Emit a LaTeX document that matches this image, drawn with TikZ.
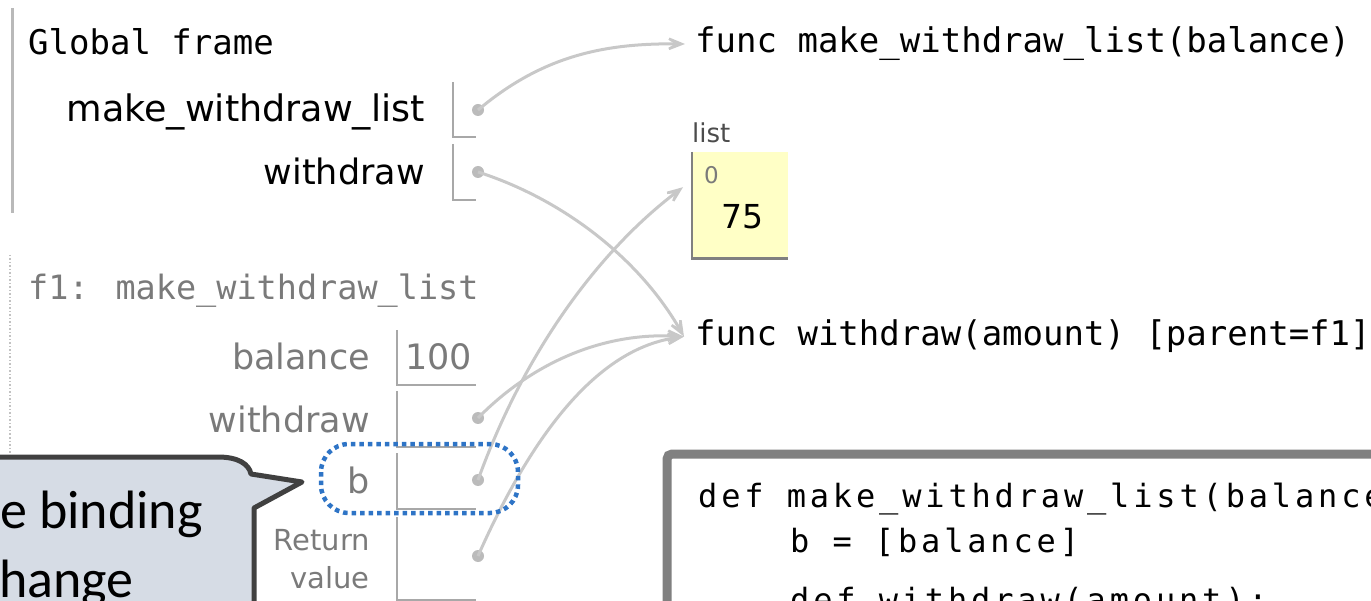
\documentclass[tikz,border=0pt]{standalone}
\usepackage{fontspec}
\setmainfont{DejaVu Sans}
\newfontfamily\monofont{DejaVu Sans Mono}
\newfontfamily\codefont{DejaVu Sans Mono}[LetterSpace=12]
\newfontfamily\calloutfont{Carlito}
\usepackage{tikz}
\usetikzlibrary{arrows.meta,positioning}
\usepackage{xcolor}
\definecolor{arrowgray}{HTML}{C8C8C8}
\definecolor{dotgray}{HTML}{BBBBBB}
\definecolor{slotgray}{HTML}{A8A8A8}
\definecolor{labelgray}{HTML}{7A7A7A}
\definecolor{listyellow}{HTML}{FFFFC6}
\definecolor{calloutfill}{HTML}{D6DCE5}
\definecolor{calloutline}{HTML}{404040}
\definecolor{bindblue}{HTML}{2E74C6}
\definecolor{codeframe}{HTML}{808080}
\tikzset{
  varname/.style={anchor=base east, inner sep=0pt, font=\fontsize{35}{40}\selectfont},
  f1name/.style={varname, text=labelgray},
  heading/.style={anchor=base west, inner sep=0pt, font=\monofont\fontsize{34}{40}\selectfont},
  codeline/.style={anchor=base west, inner sep=0pt, font=\codefont\fontsize{32}{40}\selectfont},
  notetext/.style={anchor=base east, inner sep=0pt, font=\calloutfont\fontsize{54}{64}\selectfont},
  slot/.style={draw=slotgray, line width=2pt},
  ptr/.style={circle, fill=dotgray, inner sep=0pt, minimum size=12pt},
  ref/.style={draw=arrowgray, line width=3pt, -{Stealth[length=30pt, width=24pt, inset=20pt]}},
}
\begin{document}
\begin{tikzpicture}[x=1pt, y=-1pt] % {{{
	\useasboundingbox (0,0) rectangle (1371,601);
	\clip (0,0) rectangle (1371,601);
	% Global frame {{{
	\draw[slotgray!80, line width=3pt] (12,8) -- (12,213);
	\node[heading] (gtitle) at (28,55) {Global frame};
	\node[varname, font=\fontsize{36.5}{40}\selectfont] (gmwlname) at (425,122) {make\_withdraw\_list};
	\node[varname] (gwdname) at (425,185) {withdraw};
	\foreach \yt/\yb in {82/137,144/200}
		\draw[slot] (453,\yt) -- (453,\yb) -- (476,\yb);
	\node[ptr] (gmwl) at (478,110) {};
	\node[ptr] (gwd) at (478,172) {};
	% }}}
	% f1 frame {{{
	\draw[slotgray!70, line width=1.5pt, dotted] (10,255) -- (10,610);
	\node[heading, text=labelgray, font=\monofont\fontsize{33.5}{40}\selectfont] (ftitle) at (28,300) {f1: make\_withdraw\_list};
	\node[f1name] (fbalname) at (370,370) {balance};
	\node[f1name] (fwdname) at (370,432) {withdraw};
	\node[f1name] (fbname) at (370,493) {b};
	\node[f1name, font=\fontsize{29}{34}\selectfont] (fretname) at (370,550) {Return};
	\node[f1name, font=\fontsize{29}{34}\selectfont] (fvalname) at (370,588) {value};
	\foreach \yt/\yb in {330/385,391/447,453/509,517/600}
		\draw[slot] (397,\yt) -- (397,\yb) -- (476,\yb);
	\node[anchor=base west, inner sep=0pt, text=labelgray, font=\fontsize{35}{40}\selectfont] (fbal) at (405,370) {100};
	\node[ptr] (fwd) at (478,418) {};
	\node[ptr] (fb) at (478,480) {};
	\node[ptr] (fret) at (478,556) {};
	% }}}
	% Objects {{{
	\node[heading] (fmwl) at (695,53) {func make\_withdraw\_list(balance)};
	\node[heading] (fwith) at (695,346) {func withdraw(amount) [parent=f1]};
	\node[anchor=base west, inner sep=0pt, text=black!70, font=\fontsize{26}{30}\selectfont] (lsttype) at (692,143) {list};
	\node[anchor=north west, fill=listyellow, minimum width=96pt, minimum height=106pt, inner sep=0pt] (lst) at (692,152) {};
	\draw[codeframe, line width=2.5pt] (lst.north west) -- (lst.south west) -- (lst.south east);
	\node[anchor=base west, inner sep=0pt, text=labelgray, font=\fontsize{23}{26}\selectfont] (lstidx) at (704,184) {0};
	\node[anchor=base, inner sep=0pt, font=\fontsize{33}{36}\selectfont] (lstval) at (742,229) {75};
	% }}}
	% Pointers {{{
	\draw[ref] (gmwl.center) .. controls (540,58) and (600,43) .. ([xshift=-10pt]fmwl.west);
	\draw[ref] (gwd.center) .. controls (565,200) and (640,260) .. ([xshift=-11pt]fwith.west);
	\draw[ref] (fwd.center) .. controls (530,365) and (600,332) .. ([xshift=-11pt]fwith.west);
	\draw[ref] (fret.center) .. controls (525,450) and (590,350) .. ([xshift=-11pt]fwith.west);
	\draw[ref] (fb.center) .. controls (525,350) and (600,250) .. ([shift={(-9pt,18pt)}]lst.west);
	% }}}
	% Code {{{
	\draw[codeframe, line width=9pt, fill=white, rounded corners=5pt] (667,454) rectangle (1420,660);
	\node[codeline] (code1) at (698,507) {def make\_withdraw\_list(balance};
	\node[codeline] (code2) at (790,552) {b = [balance]};
	\node[codeline] (code3) at (790,611) {def withdraw(amount):};
	% }}}
	% Callout {{{
	\draw[bindblue, line width=4.5pt, dash pattern=on 4.5pt off 4pt, rounded corners=28pt] (321,444) rectangle (518,513);
	\draw[calloutline, fill=calloutfill, line width=5pt, line join=round]
		(-20,457) -- (218,457) .. controls (238,457) and (249,464) .. (251,474)
		-- (302,482) -- (254,508) -- (254,640) -- (-20,640) -- cycle;
	\node[notetext] (note1) at (203,528) {e binding};
	\node[notetext] (note2) at (134,597) {hange};
	% }}}
\end{tikzpicture} % }}}
\end{document}
